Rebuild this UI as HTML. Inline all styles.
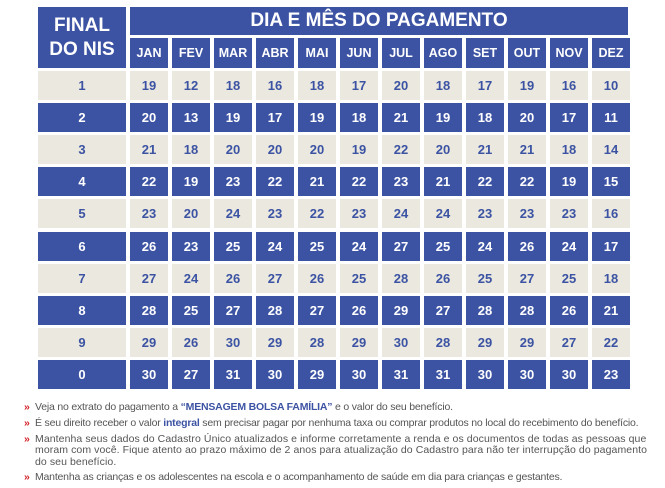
<!DOCTYPE html>
<html><head><meta charset="utf-8"><style>
body{margin:0;width:665px;height:488px;background:#fff;font-family:"Liberation Sans",sans-serif;position:relative;overflow:hidden}
.c{position:absolute;display:flex;align-items:center;justify-content:center;font-weight:bold}
.b{background:#3c53a3;color:#fff}
.g{background:#ebe9df;color:#3c53a3}
.n{position:absolute;left:24px;font-size:10.5px;color:#555;line-height:11.3px;width:660px;letter-spacing:-0.2px;white-space:nowrap}
.n i{font-style:normal;color:#d2232a;font-weight:bold;position:absolute;left:0}
.n span{display:block;padding-left:11px}
.n b{color:#3c53a3}
</style></head><body>
<div class="c b" style="left:38px;top:7px;width:88px;height:61px;font-size:19px;line-height:24px;text-align:center">FINAL<br>DO NIS</div>
<div class="c b" style="left:130px;top:7px;width:498px;height:28px;font-size:19px">DIA E MÊS DO PAGAMENTO</div>
<div id="t"></div>
<div class="n" style="top:402px"><i>»</i><span>Veja no extrato do pagamento a <b>“MENSAGEM BOLSA FAMÍLIA”</b> e o valor do seu benefício.</span></div>
<div class="n" style="top:418px"><i>»</i><span>É seu direito receber o valor <b>integral</b> sem precisar pagar por nenhuma taxa ou comprar produtos no local do recebimento do benefício.</span></div>
<div class="n" style="top:434px;letter-spacing:0.08px"><i>»</i><span>Mantenha seus dados do Cadastro Único atualizados e informe corretamente a renda e os documentos de todas as pessoas que<br>moram com você. Fique atento ao prazo máximo de 2 anos para atualização do Cadastro para não ter interrupção do pagamento<br>do seu benefício.</span></div>
<div class="n" style="top:472px"><i>»</i><span>Mantenha as crianças e os adolescentes na escola e o acompanhamento de saúde em dia para crianças e gestantes.</span></div>
<script>
var m=["JAN","FEV","MAR","ABR","MAI","JUN","JUL","AGO","SET","OUT","NOV","DEZ"];
var d=[["1",19,12,18,16,18,17,20,18,17,19,16,10],["2",20,13,19,17,19,18,21,19,18,20,17,11],["3",21,18,20,20,20,19,22,20,21,21,18,14],["4",22,19,23,22,21,22,23,21,22,22,19,15],["5",23,20,24,23,22,23,24,24,23,23,23,16],["6",26,23,25,24,25,24,27,25,24,26,24,17],["7",27,24,26,27,26,25,28,26,25,27,25,18],["8",28,25,27,28,27,26,29,27,28,28,26,21],["9",29,26,30,29,28,29,30,28,29,29,27,22],["0",30,27,31,30,29,30,31,31,30,30,30,23]];
var h="";
m.forEach(function(x,i){h+='<div class="c b" style="left:'+(130+42*i)+'px;top:38px;width:38px;height:30px;font-size:12.5px">'+x+'</div>'});
d.forEach(function(r,j){var cl=j%2?"b":"g",y=Math.round(71+32.1*j);
h+='<div class="c '+cl+'" style="left:38px;top:'+y+'px;width:88px;height:29px;font-size:13px">'+r[0]+'</div>';
for(var i=1;i<13;i++)h+='<div class="c '+cl+'" style="left:'+(130+42*(i-1))+'px;top:'+y+'px;width:38px;height:29px;font-size:13px">'+r[i]+'</div>';});
document.getElementById("t").innerHTML=h;
</script>
</body></html>
